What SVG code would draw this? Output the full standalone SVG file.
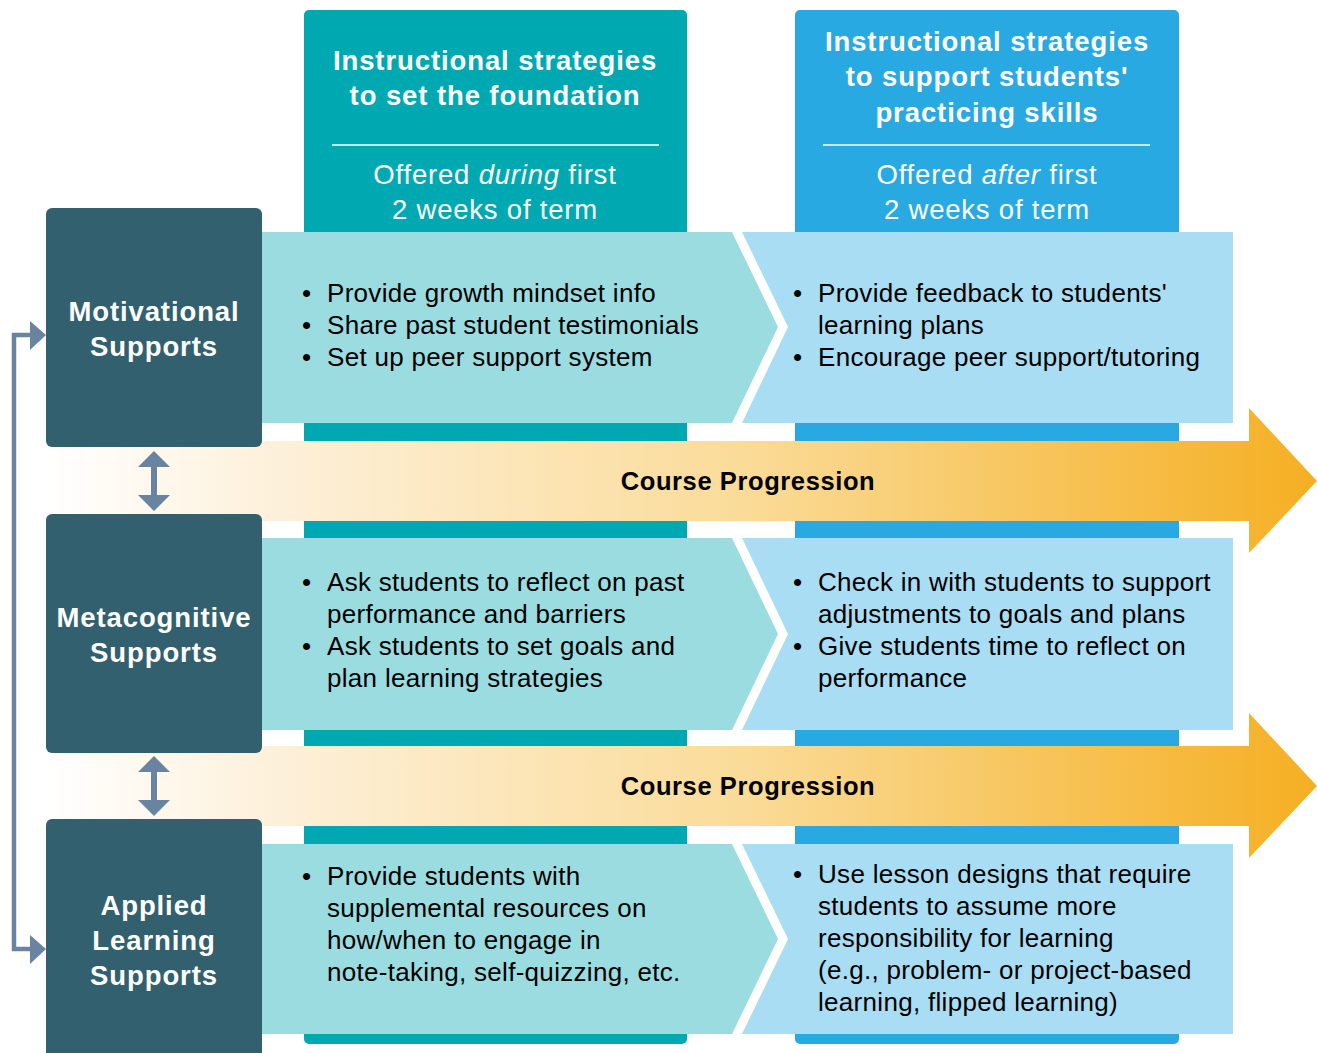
<svg xmlns="http://www.w3.org/2000/svg" width="1317" height="1053" viewBox="0 0 1317 1053">
  <defs>
    <linearGradient id="prog" x1="46" y1="0" x2="1317" y2="0" gradientUnits="userSpaceOnUse">
      <stop offset="0" stop-color="#FFFFFF"/>
      <stop offset="0.2" stop-color="#FDEFD6"/>
      <stop offset="0.55" stop-color="#FADB98"/>
      <stop offset="1" stop-color="#F5AF22"/>
    </linearGradient>
  </defs>
  <style>
    .hdr { font-family: "Liberation Sans", Arial, sans-serif; fill: #FFFFFF; text-anchor: middle; font-size: 27.5px; }
    .hdr-b { font-weight: bold; letter-spacing: 0.9px; }
    .hdr-r { letter-spacing: 0.8px; }
    .side { fill: #32606E; }
    .side-t { font-family: "Liberation Sans", Arial, sans-serif; font-size: 27.5px; font-weight: bold; fill: #FFFFFF; text-anchor: middle; letter-spacing: 0.9px; }
    .cellA { fill: #9ADCE0; }
    .cellB { fill: #A8DDF3; }
    .txt { font-family: "Liberation Sans", Arial, sans-serif; font-size: 26px; fill: #000000; letter-spacing: 0.3px; }
    .prog-t { font-family: "Liberation Sans", Arial, sans-serif; font-size: 25.5px; font-weight: bold; fill: #000000; text-anchor: middle; letter-spacing: 0.6px; }
    .dbl { fill: #6884A0; }
    .rule { stroke: #FFFFFF; stroke-width: 1.5; }
  </style>

  <!-- phase columns -->
  <g id="col-foundation">
    <rect x="304" y="10" width="383" height="1034" rx="5" fill="#00A9B2"/>
    <text class="hdr hdr-b" x="495" y="70">Instructional strategies</text>
    <text class="hdr hdr-b" x="495" y="105">to set the foundation</text>
    <line class="rule" x1="332" y1="145" x2="659" y2="145"/>
    <text class="hdr hdr-r" x="495" y="184">Offered <tspan font-style="italic">during</tspan> first</text>
    <text class="hdr hdr-r" x="495" y="219">2 weeks of term</text>
  </g>
  <g id="col-practice">
    <rect x="795" y="10" width="384" height="1034" rx="5" fill="#29A9E1"/>
    <text class="hdr hdr-b" x="987" y="51">Instructional strategies</text>
    <text class="hdr hdr-b" x="987" y="86">to support students'</text>
    <text class="hdr hdr-b" x="987" y="122">practicing skills</text>
    <line class="rule" x1="823" y1="145" x2="1150" y2="145"/>
    <text class="hdr hdr-r" x="987" y="184">Offered <tspan font-style="italic">after</tspan> first</text>
    <text class="hdr hdr-r" x="987" y="219">2 weeks of term</text>
  </g>

  <!-- course progression arrows -->
  <g id="progress-1">
    <path d="M46,441 L1249,441 L1249,408 L1317,481 L1249,553 L1249,521 L46,521 Z" fill="url(#prog)"/>
    <text class="prog-t" x="748" y="490">Course Progression</text>
  </g>
  <g id="progress-2">
    <path d="M46,746 L1249,746 L1249,713 L1317,786 L1249,858 L1249,826 L46,826 Z" fill="url(#prog)"/>
    <text class="prog-t" x="748" y="795">Course Progression</text>
  </g>

  <!-- motivational row -->
  <g id="row-motivational">
    <path class="cellA" d="M262,232 L732,232 L778,327 L732,423 L262,423 Z"/>
    <path class="cellB" d="M742,232 L1233,232 L1233,423 L742,423 L788,327 Z"/>
    <text class="txt" x="302" y="302">•</text>
    <text class="txt" x="327" y="302">Provide growth mindset info</text>
    <text class="txt" x="302" y="334">•</text>
    <text class="txt" x="327" y="334">Share past student testimonials</text>
    <text class="txt" x="302" y="366">•</text>
    <text class="txt" x="327" y="366">Set up peer support system</text>
    <text class="txt" x="793" y="302">•</text>
    <text class="txt" x="818" y="302">Provide feedback to students'</text>
    <text class="txt" x="818" y="334">learning plans</text>
    <text class="txt" x="793" y="366">•</text>
    <text class="txt" x="818" y="366">Encourage peer support/tutoring</text>
  </g>

  <!-- metacognitive row -->
  <g id="row-metacognitive">
    <path class="cellA" d="M262,538 L732,538 L778,634 L732,730 L262,730 Z"/>
    <path class="cellB" d="M742,538 L1233,538 L1233,730 L742,730 L788,634 Z"/>
    <text class="txt" x="302" y="591">•</text>
    <text class="txt" x="327" y="591">Ask students to reflect on past</text>
    <text class="txt" x="327" y="623">performance and barriers</text>
    <text class="txt" x="302" y="655">•</text>
    <text class="txt" x="327" y="655">Ask students to set goals and</text>
    <text class="txt" x="327" y="687">plan learning strategies</text>
    <text class="txt" x="793" y="591">•</text>
    <text class="txt" x="818" y="591">Check in with students to support</text>
    <text class="txt" x="818" y="623">adjustments to goals and plans</text>
    <text class="txt" x="793" y="655">•</text>
    <text class="txt" x="818" y="655">Give students time to reflect on</text>
    <text class="txt" x="818" y="687">performance</text>
  </g>

  <!-- applied learning row -->
  <g id="row-applied">
    <path class="cellA" d="M262,844 L732,844 L778,939 L732,1034 L262,1034 Z"/>
    <path class="cellB" d="M742,844 L1233,844 L1233,1034 L742,1034 L788,939 Z"/>
    <text class="txt" x="302" y="885">•</text>
    <text class="txt" x="327" y="885">Provide students with</text>
    <text class="txt" x="327" y="917">supplemental resources on</text>
    <text class="txt" x="327" y="949">how/when to engage in</text>
    <text class="txt" x="327" y="981">note-taking, self-quizzing, etc.</text>
    <text class="txt" x="793" y="883">•</text>
    <text class="txt" x="818" y="883">Use lesson designs that require</text>
    <text class="txt" x="818" y="915">students to assume more</text>
    <text class="txt" x="818" y="947">responsibility for learning</text>
    <text class="txt" x="818" y="979">(e.g., problem- or project-based</text>
    <text class="txt" x="818" y="1011">learning, flipped learning)</text>
  </g>

  <!-- support category boxes -->
  <g id="motivational">
    <rect class="side" x="46" y="208" width="216" height="239" rx="6"/>
    <text class="side-t" x="154" y="321">Motivational</text>
    <text class="side-t" x="154" y="356">Supports</text>
  </g>
  <g id="metacognitive">
    <rect class="side" x="46" y="514" width="216" height="239" rx="6"/>
    <text class="side-t" x="154" y="627">Metacognitive</text>
    <text class="side-t" x="154" y="662">Supports</text>
  </g>
  <g id="applied">
    <rect class="side" x="46" y="819" width="216" height="250" rx="6"/>
    <text class="side-t" x="154" y="915">Applied</text>
    <text class="side-t" x="154" y="950">Learning</text>
    <text class="side-t" x="154" y="985">Supports</text>
  </g>

  <!-- connectors between categories -->
  <g id="connectors">
    <path class="dbl" d="M154,451 L170,467 L157,467 L157,495 L170,495 L154,511 L138,495 L151,495 L151,467 L138,467 Z"/>
    <path class="dbl" d="M154,756 L170,772 L157,772 L157,800 L170,800 L154,816 L138,800 L151,800 L151,772 L138,772 Z"/>
    <path d="M30,335 L14,335 L14,949 L30,949" fill="none" stroke="#6884A0" stroke-width="4.5"/>
    <path class="dbl" d="M30,321 L46,335 L30,350 Z"/>
    <path class="dbl" d="M30,935 L46,949 L30,964 Z"/>
  </g>
</svg>
